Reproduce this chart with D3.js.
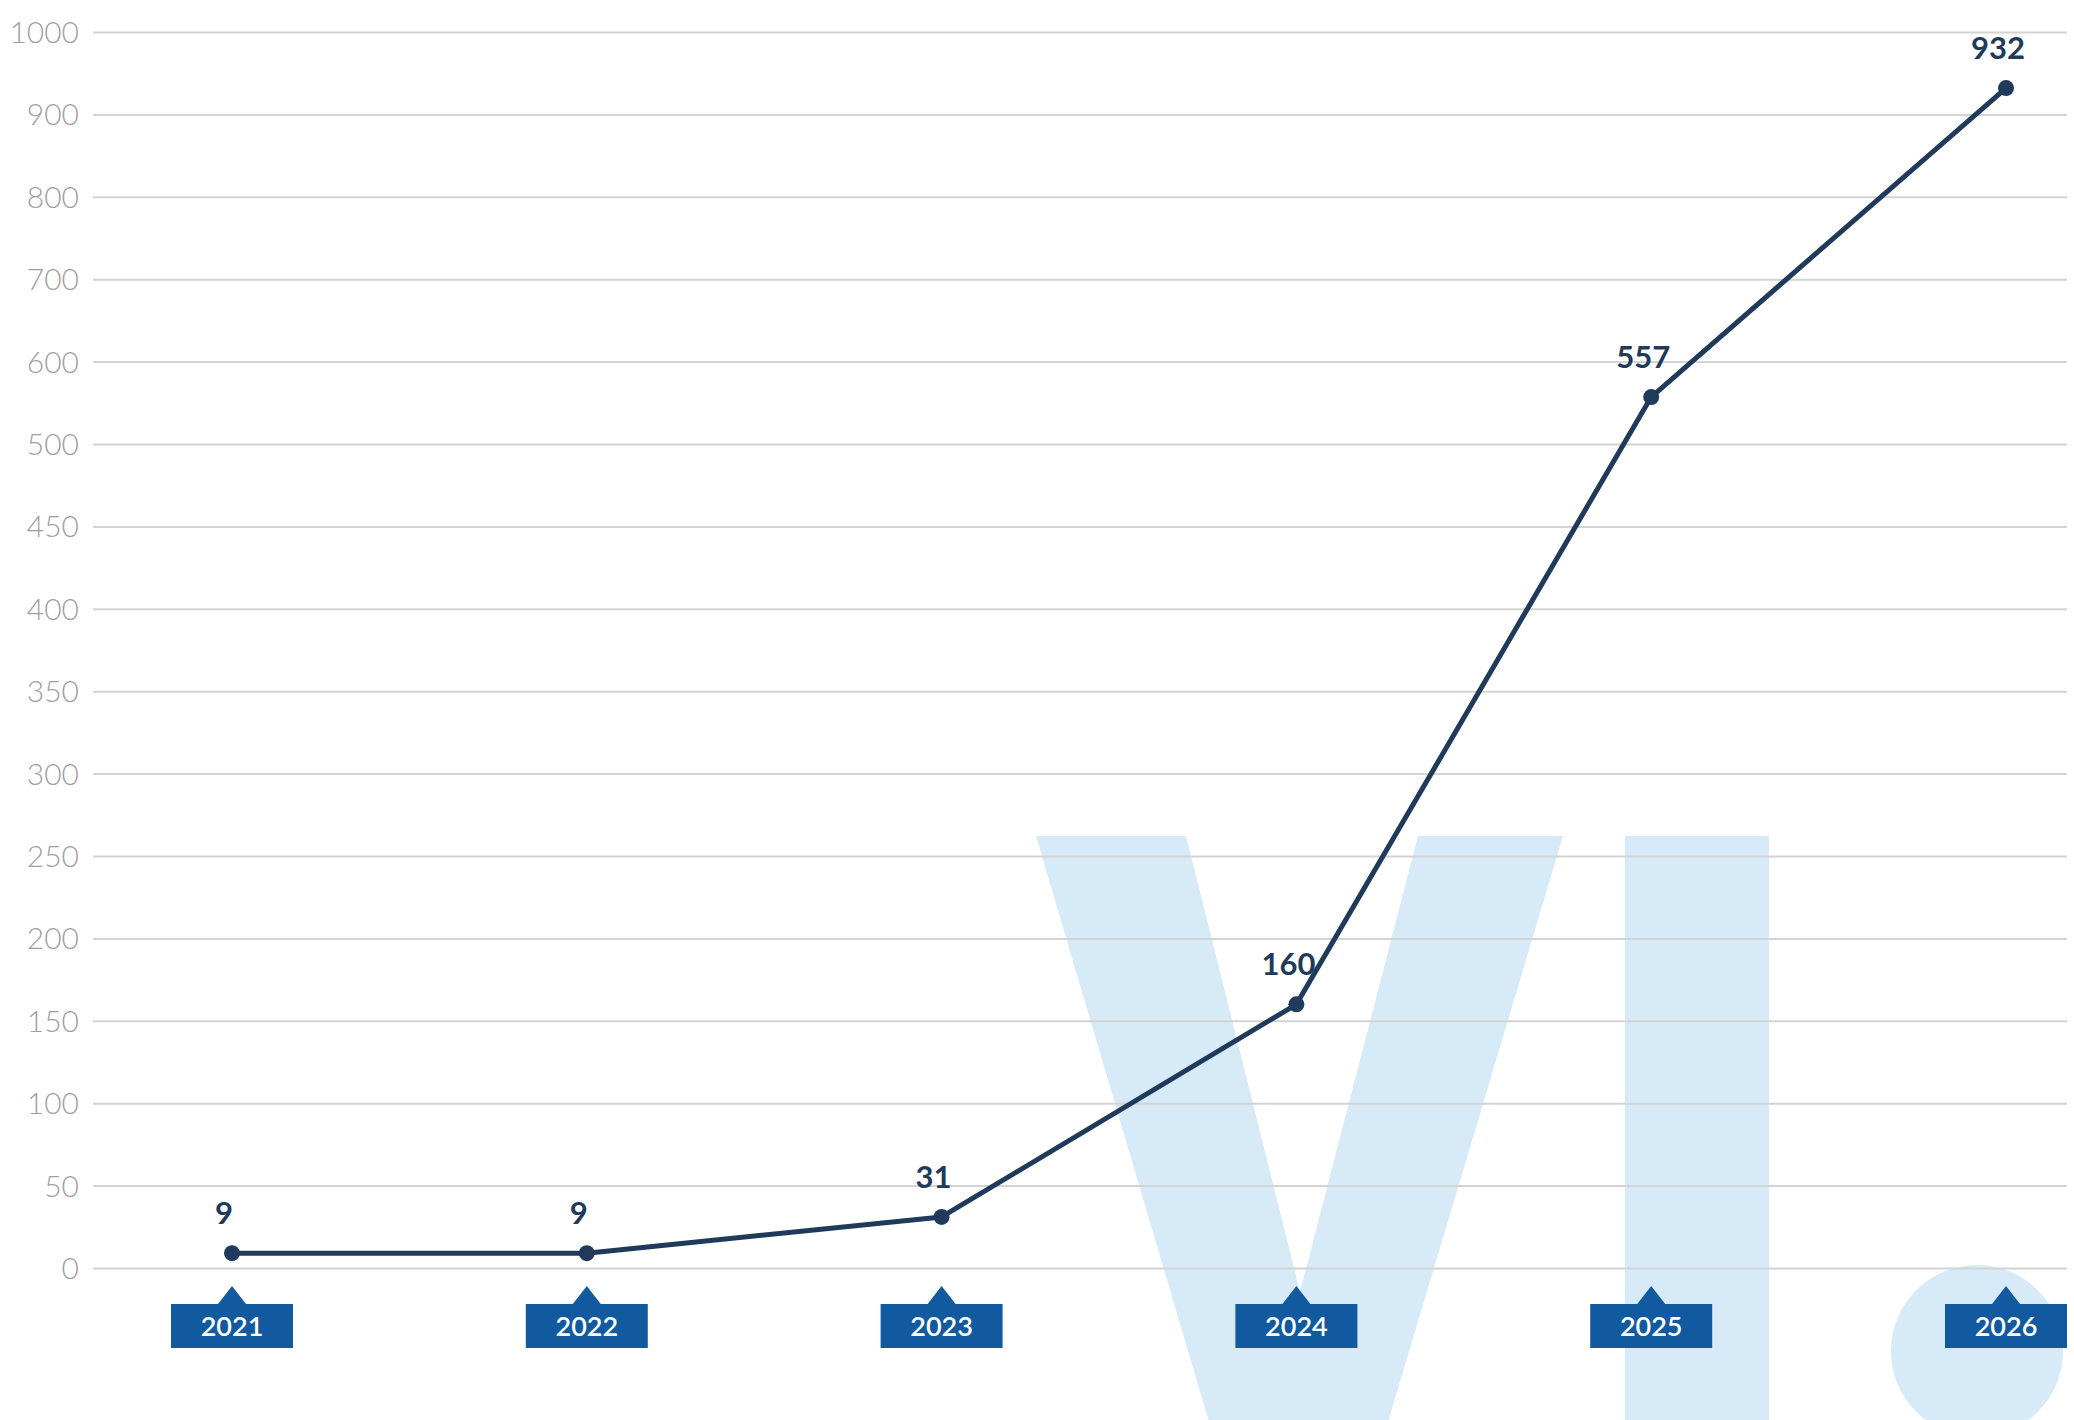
<!DOCTYPE html>
<meta charset="utf-8">
<style>
  body { margin: 0; background: #fff; }
  svg { display: block; }
  .grid line { stroke: #d3d3d3; stroke-width: 2px; }
  .ylab { font-family: "Lato", sans-serif; font-weight: 300; font-size: 30px; fill: #9f9f9f; }
  .val { font-family: "Lato", sans-serif; font-weight: bold; font-size: 31px; fill: #1f3a5a; }
  .year { font-family: "Lato", sans-serif; font-weight: 600; font-size: 27px; fill: #fff; }
</style>
<body>
<script src="https://cdn.jsdelivr.net/npm/d3@7"></script>
<script>
// data
var years  = ["2021", "2022", "2023", "2024", "2025", "2026"];
var values = [9, 9, 31, 160, 557, 932];
var yTicks = [0, 50, 100, 150, 200, 250, 300, 350, 400, 450, 500, 600, 700, 800, 900, 1000];

var W = 2074, H = 1420;
var left = 93, right = 2067;

var svg = d3.select("body").append("svg")
  .attr("width", W)
  .attr("height", H);

// x is a point scale, y is split: 0-500 and 500-1000 get the same height
var x = d3.scalePoint().domain(years).range([232, 2006]);
var y = d3.scaleLinear().domain([0, 500, 1000]).range([1268, 444, 32]);

// big light blue "VI." in the background
var wm = svg.append("g").attr("fill", "#d7eaf8");
wm.append("path")
  .attr("d", "M1036,836 L1186,836 L1300,1292 L1418,836 L1563,836 L1388,1422 L1209,1422 Z");
wm.append("rect")
  .attr("x", 1625).attr("y", 836)
  .attr("width", 144).attr("height", H - 836);
wm.append("circle")
  .attr("cx", 1977).attr("cy", 1351).attr("r", 86);

// gridlines + tick labels
var yAxis = d3.axisLeft(y)
  .tickValues(yTicks)
  .tickSize(-(right - left))
  .tickPadding(14)
  .tickFormat(d3.format("d"));

var g = svg.append("g")
  .attr("class", "grid")
  .attr("transform", "translate(" + left + ",0)")
  .call(yAxis);
g.select(".domain").remove();
g.selectAll("text").attr("class", "ylab").attr("fill", null).attr("dy", "0.35em");

// line
var line = d3.line()
  .x(function(d, i){ return x(years[i]); })
  .y(function(d){ return y(d); });

svg.append("path")
  .datum(values)
  .attr("d", line)
  .attr("fill", "none")
  .attr("stroke", "#1f3a5a")
  .attr("stroke-width", 5)
  .attr("stroke-linejoin", "round");

svg.selectAll(".dot")
  .data(values)
  .enter().append("circle")
  .attr("class", "dot")
  .attr("cx", function(d, i){ return x(years[i]); })
  .attr("cy", function(d){ return y(d); })
  .attr("r", 8)
  .attr("fill", "#1f3a5a");

svg.selectAll(".val")
  .data(values)
  .enter().append("text")
  .attr("class", "val")
  .attr("text-anchor", "middle")
  .attr("x", function(d, i){ return x(years[i]) - 8; })
  .attr("y", function(d){ return y(d) - 29; })
  .text(function(d){ return d; });

// year tags under the axis
var tag = svg.selectAll(".tag")
  .data(years)
  .enter().append("g")
  .attr("class", "tag")
  .attr("transform", function(d){ return "translate(" + x(d) + ",0)"; });

tag.append("path")
  .attr("d", "M-61,1304 L-14,1304 L0,1286 L14,1304 L61,1304 L61,1348 L-61,1348 Z")
  .attr("fill", "#125aa0");

tag.append("text")
  .attr("class", "year")
  .attr("text-anchor", "middle")
  .attr("y", 1336)
  .text(function(d){ return d; });
</script>
</body>
